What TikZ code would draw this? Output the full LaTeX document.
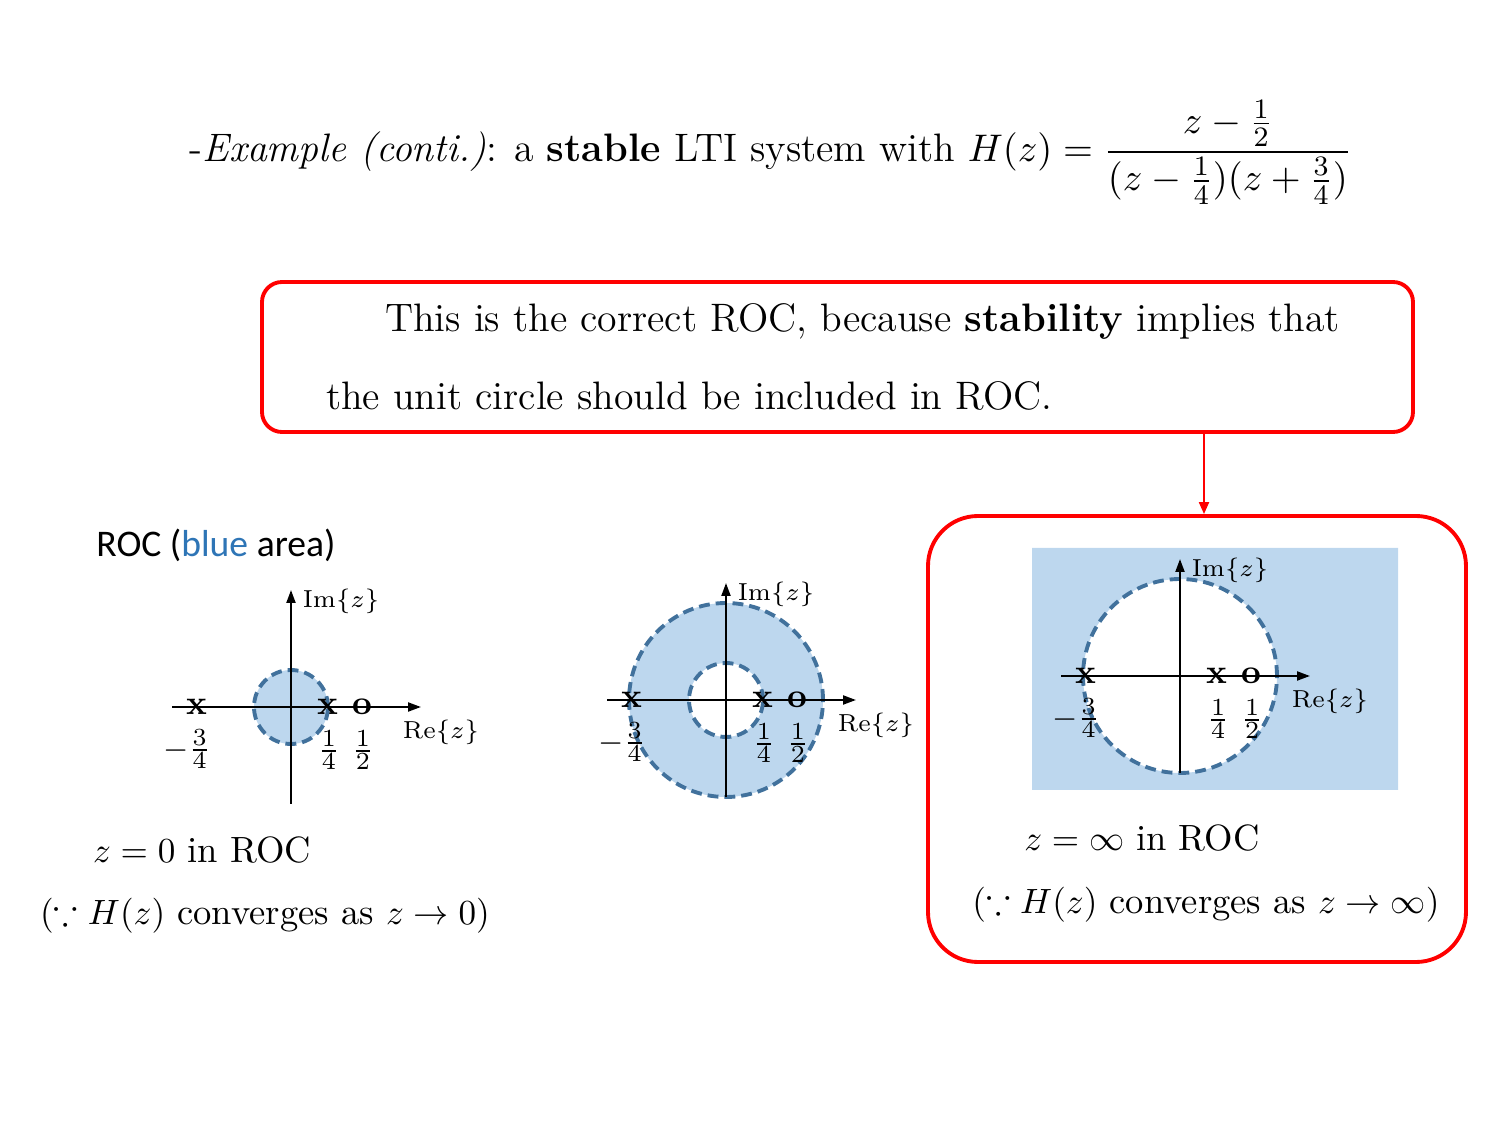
\documentclass[tikz,border=0pt]{standalone}
\usepackage{amsmath,amssymb}
\usepackage{fontspec}
\newfontfamily\calibri{Carlito}
\usetikzlibrary{arrows.meta,positioning}
\definecolor{rocfill}{RGB}{189,215,238}
\definecolor{rocedge}{RGB}{65,113,156}
\definecolor{wordblue}{RGB}{46,117,182}
\begin{document}
\begin{tikzpicture}[
    axis_style/.style={line width=0.6pt, -{Triangle[length=0.13cm,width=0.09cm]}},
    edge_style/.style={draw=rocedge, line width=1.1pt, dash pattern=on 3.1pt off 1.7pt},
    box_style/.style={draw=red, line width=1.1pt, rectangle},
    label_style/.style={font=\fontsize{7}{8}\selectfont, inner sep=0pt},
    frac_style/.style={font=\fontsize{9.5}{10}\selectfont, inner sep=0pt},
    mark_style/.style={font=\fontsize{9.8}{10}\selectfont\bfseries, inner sep=0pt},
    text_style/.style={font=\fontsize{10.4}{12}\selectfont, inner sep=0pt}
]
\useasboundingbox (0,0) rectangle (15,11.25);
% title line
\node[font=\fontsize{11.3}{13}\selectfont, inner sep=0pt] (title) at (7.71, 9.73)
    {-\textit{Example (conti.)}: a \textbf{stable} LTI system with $\displaystyle H(z)=\frac{z-\frac{1}{2}}{(z-\frac{1}{4})(z+\frac{3}{4})}$};
% note box and the chosen ROC box
\node[box_style, rounded corners=0.2cm, minimum width=11.51cm, minimum height=1.5cm,
    text width=10.23cm, inner xsep=0.64cm, align=left, font=\fontsize{11.3}{22}\selectfont] (note) at (8.375, 7.68)
    {\hspace*{0.59cm}This is the correct ROC, because \textbf{stability} implies that\\the unit circle should be included in ROC.};
\node[box_style, rounded corners=0.5cm, minimum width=5.38cm, minimum height=4.46cm] (roc) at (11.97, 3.86) {};
\draw[red, line width=0.6pt, -{Triangle[length=0.12cm,width=0.1cm]}]
    ([xshift=0.07cm]note.south -| roc.north) -- ([xshift=0.07cm]roc.north);
\node[font=\calibri\fontsize{10.7}{12}\selectfont, inner sep=0pt] (legend) at (2.16, 5.80)
    {ROC (\textcolor{wordblue}{blue} area)};
% plane 1: |z| < 1/4
\begin{scope}[shift={(2.91,4.18)}]
    \fill[rocfill] (0,0) circle (0.37);
    \draw[edge_style] (0,0) circle (0.37);
\end{scope}
% plane 2: 1/4 < |z| < 3/4
\begin{scope}[shift={(7.26,4.25)}]
    \fill[rocfill, even odd rule] (0,0) circle (0.97) (0,0) circle (0.37);
    \draw[edge_style] (0,0) circle (0.97);
    \draw[edge_style] (0,0) circle (0.37);
\end{scope}
% plane 3: |z| > 3/4
\begin{scope}[shift={(11.80,4.49)}]
    \fill[rocfill, even odd rule] (-1.48,-1.14) rectangle (2.18,1.28) (0,0) circle (0.97);
    \draw[edge_style] (0,0) circle (0.97);
\end{scope}
% axes, poles, zero and labels of each plane
\foreach \cx/\cy/\n in {2.91/4.18/1, 7.26/4.25/2, 11.80/4.49/3} {
    \begin{scope}[shift={(\cx,\cy)}]
        \coordinate (w\n) at (-1.19,0);
        \coordinate (e\n) at (1.30,0);
        \coordinate (s\n) at (0,-0.97);
        \coordinate (n\n) at (0,1.17);
        \draw[axis_style] (w\n) -- (e\n);
        \draw[axis_style] (s\n) -- (n\n);
        \node[mark_style] (pa\n) at (-0.94,0) {x};
        \node[mark_style] (pb\n) at (0.37,0) {x};
        \node[mark_style] (za\n) at (0.71,0) {o};
        \node[label_style] (re\n) at (1.50,-0.25) {$\mathrm{Re}\{z\}$};
        \node[label_style] (im\n) at (0.50,1.06) {$\mathrm{Im}\{z\}$};
        \node[frac_style] (fa\n) at (-1.04,-0.42) {$-\frac{3}{4}$};
        \node[frac_style] (fb\n) at (0.38,-0.43) {$\frac{1}{4}$};
        \node[frac_style] (fc\n) at (0.72,-0.43) {$\frac{1}{2}$};
    \end{scope}
}
% conclusions
\node[text_style] (zero) at (2.02, 2.75) {$z=0$ in ROC};
\node[text_style] (zerowhy) at (2.65, 2.09) {$(\because H(z)$ converges as $z\rightarrow 0)$};
\node[text_style] (inf) at (11.42, 2.87) {$z=\infty$ in ROC};
\node[text_style] (infwhy) at (12.06, 2.20) {$(\because H(z)$ converges as $z\rightarrow\infty)$};
\end{tikzpicture}
\end{document}
